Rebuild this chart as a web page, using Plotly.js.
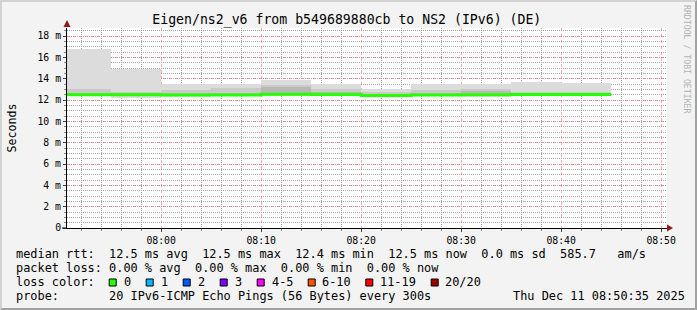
<!DOCTYPE html>
<html><head><meta charset="utf-8">
<script src="https://cdn.plot.ly/plotly-3.0.1.min.js"></script>
<style>
html,body{margin:0;padding:0;background:#f3f3f3;}
#wrap{position:relative;width:697px;height:310px;overflow:hidden;}
#chart{width:697px;height:310px;}
#frame{position:absolute;left:0;top:0;width:697px;height:310px;box-sizing:border-box;border-top:2px solid #d2d2d2;border-left:2px solid #d2d2d2;border-right:2px solid #a2a2a2;border-bottom:2px solid #a2a2a2;pointer-events:none;}
</style></head>
<body><div id="wrap"><div id="chart"></div><div id="frame"></div></div>
<script>
// ---- data (5-minute smokeping bins, values in ms) ----
const binStart = ['2025-12-11 07:50:00','2025-12-11 07:55:00','2025-12-11 08:00:00','2025-12-11 08:05:00',
  '2025-12-11 08:10:00','2025-12-11 08:15:00','2025-12-11 08:20:00','2025-12-11 08:25:00',
  '2025-12-11 08:30:00','2025-12-11 08:35:00','2025-12-11 08:40:00'];
const lastBinEnd = '2025-12-11 08:45:00';
const rttMinMs  = [12.40, 12.22, 12.31, 12.35, 12.40, 12.38, 12.30, 12.33, 12.24, 12.38, 12.38];
const rttMaxMs  = [16.81, 14.87, 13.50, 13.48, 13.84, 13.53, 13.03, 13.46, 13.53, 13.72, 13.62];
const rttMidMs  = [13.03, 12.71, 12.90, 13.09, 13.45, 13.06, 12.75, 12.97, 13.05, 12.72, 12.72];
const rttCoreMs = [12.70, 12.62, 12.62, 12.66, 13.20, 12.72, 12.58, 12.70, 12.87, 12.62, 12.62];
const medianMs  = [12.50, 12.49, 12.47, 12.48, 12.53, 12.51, 12.42, 12.47, 12.50, 12.51, 12.51];

const yTickVals = [0, 0.002, 0.004, 0.006, 0.008, 0.010, 0.012, 0.014, 0.016, 0.018];
const yTickText = ['0', '2 m', '4 m', '6 m', '8 m', '10 m', '12 m', '14 m', '16 m', '18 m'];

const titleText = 'Eigen/ns2_v6 from b549689880cb to NS2 (IPv6) (DE)';
const legendLine1 = 'median rtt:  12.5 ms avg  12.5 ms max  12.4 ms min  12.5 ms now  0.0 ms sd  585.7   am/s';
const legendLine2 = 'packet loss: 0.00 % avg  0.00 % max  0.00 % min  0.00 % now';
const lossTitle = 'loss color:';
const lossLabels = ['0', '1', '2', '3', '4-5', '6-10', '11-19', '20/20'];
const probeLine = 'probe:       20 IPv6-ICMP Echo Pings (56 Bytes) every 300s';
const stampText = 'Thu Dec 11 08:50:35 2025';
const watermark = 'RRDTOOL / TOBI OETIKER';

// ---- style ----
const lossColors = ['#26ff00', '#00b8ff', '#0059ff', '#7e00ff', '#ff00ff', '#ff5500', '#ff0000', '#a00000'];
const lossBoxX = [108.7, 145.7, 182.7, 219.7, 256.7, 307.7, 365.3, 430.7];
const lossLabelX = [124, 161, 198, 235, 271.7, 322.3, 380, 445.3];

const W = 697, H = 310, ML = 67, MR = 30, MT = 28, MB = 82;
const PW = W - ML - MR, PH = H - MT - MB;
const px2x = p => (p - ML) / PW;
const px2y = p => (H - MB - p) / PH;
const nb = s => s.replace(/ /g, '\u00a0');
const ms = a => a.map(v => v / 1000);
const diff = (hi, lo) => hi.map((v, i) => (v - lo[i]) / 1000);

const mono = 'DejaVu Sans Mono, monospace';

function band(hi, lo, color) {
  return {type: 'bar', x: binStart, base: ms(lo), y: diff(hi, lo), offset: 0, width: 300000,
    marker: {color: color, line: {width: 0}}, hoverinfo: 'skip', showlegend: false};
}
const medLo = rttMinMs.map(v => Math.max(v, 12.36));
const traces = [
  band(rttMaxMs, rttMinMs, '#dcdcdc'),
  band(rttMidMs, medLo, '#cacaca'),
  band(rttCoreMs, medLo.map(v => v + 0.04), '#b8b8b8'),
  {type: 'scatter', mode: 'lines', x: binStart.concat([lastBinEnd]),
   y: ms(medianMs.concat([medianMs[medianMs.length - 1]])),
   line: {shape: 'hv', width: 3, color: '#26ff00'}, hoverinfo: 'skip', showlegend: false}
];

const annotations = [];
function txt(text, xpx, ypx, opts) {
  annotations.push(Object.assign({text: nb(text), xref: 'paper', yref: 'paper', x: px2x(xpx), y: px2y(ypx),
    xanchor: 'left', yanchor: 'middle', showarrow: false, borderpad: 0, borderwidth: 0,
    font: {family: mono, size: 11.9, color: '#000'}}, opts || {}));
}
txt(legendLine1, 16, 254.3);
txt(legendLine2, 16, 268);
txt(lossTitle, 16, 282.3);
lossLabels.forEach((l, i) => txt(l, lossLabelX[i], 282.3));
txt(probeLine, 16, 295.7);
txt(stampText, 513, 295.7);
txt(watermark, 687, 59, {xanchor: 'center', textangle: 90, font: {family: mono, size: 8.2, color: '#b4b4b4'}});

const shapes = [];
lossColors.forEach((c, i) => shapes.push({type: 'rect', xref: 'paper', yref: 'paper',
  x0: px2x(lossBoxX[i] + 0.5), x1: px2x(lossBoxX[i] + 7.5), y0: px2y(286), y1: px2y(279),
  fillcolor: c, line: {color: '#000', width: 1}}));
// axis overhang and arrows
shapes.push({type: 'line', xref: 'paper', yref: 'paper', x0: px2x(62), x1: px2x(67), y0: 0, y1: 0, line: {color: '#000', width: 1}});
shapes.push({type: 'path', xref: 'paper', yref: 'paper',
  path: `M ${px2x(67)} ${px2y(20)} L ${px2x(63.5)} ${px2y(27)} L ${px2x(70.5)} ${px2y(27)} Z`,
  fillcolor: '#8e1a1a', line: {width: 0}});
shapes.push({type: 'path', xref: 'paper', yref: 'paper',
  path: `M ${px2x(673)} ${px2y(228)} L ${px2x(667)} ${px2y(224.5)} L ${px2x(667)} ${px2y(231.5)} Z`,
  fillcolor: '#8e1a1a', line: {width: 0}});

const majorGrid = 'rgba(255,100,100,0.55)';
const minorGrid = '#a6a6a6';
const minorDash = '1px,1px';

const layout = {
  width: W, height: H,
  margin: {l: ML, r: MR, t: MT, b: MB, pad: 0},
  paper_bgcolor: '#f3f3f3', plot_bgcolor: '#ffffff',
  barmode: 'overlay', bargap: 0, showlegend: false,
  title: {text: titleText, xref: 'container', yref: 'container', x: 346.8 / W, y: 1 - 19.3 / H,
    xanchor: 'center', yanchor: 'middle', font: {family: mono, size: 13.2, color: '#000'}},
  xaxis: {type: 'date', range: ['2025-12-11 07:50:35', '2025-12-11 08:50:35'],
    tickmode: 'linear', tick0: '2025-12-11 08:00:00', dtick: 600000, tickformat: '%H:%M',
    showgrid: true, gridcolor: majorGrid, griddash: 'dot', gridwidth: 1,
    ticks: 'outside', ticklen: 3, tickcolor: '#444',
    showline: true, linecolor: '#000', linewidth: 1, zeroline: false,
    tickfont: {family: mono, size: 9.8, color: '#000'},
    minor: {tickmode: 'linear', tick0: '2025-12-11 08:00:00', dtick: 120000, showgrid: true,
      gridcolor: minorGrid, griddash: minorDash, ticks: 'outside', ticklen: 2, tickcolor: '#888'},
    fixedrange: true},
  yaxis: {range: [0, 0.01875], tickmode: 'array', tickvals: yTickVals, ticktext: yTickText,
    showgrid: true, gridcolor: majorGrid, griddash: 'dot', gridwidth: 1,
    ticks: 'outside', ticklen: 3, tickcolor: '#444',
    showline: true, linecolor: '#000', linewidth: 1, zeroline: false,
    tickfont: {family: mono, size: 9.8, color: '#000'},
    title: {text: 'Seconds', standoff: 18, font: {family: mono, size: 11.6, color: '#000'}},
    minor: {tickmode: 'linear', tick0: 0, dtick: 0.0005, showgrid: true,
      gridcolor: minorGrid, griddash: minorDash, ticks: 'outside', ticklen: 2, tickcolor: '#888'},
    fixedrange: true},
  annotations: annotations, shapes: shapes
};
Plotly.newPlot('chart', traces, layout, {staticPlot: true, displayModeBar: false});
</script>
</body></html>
